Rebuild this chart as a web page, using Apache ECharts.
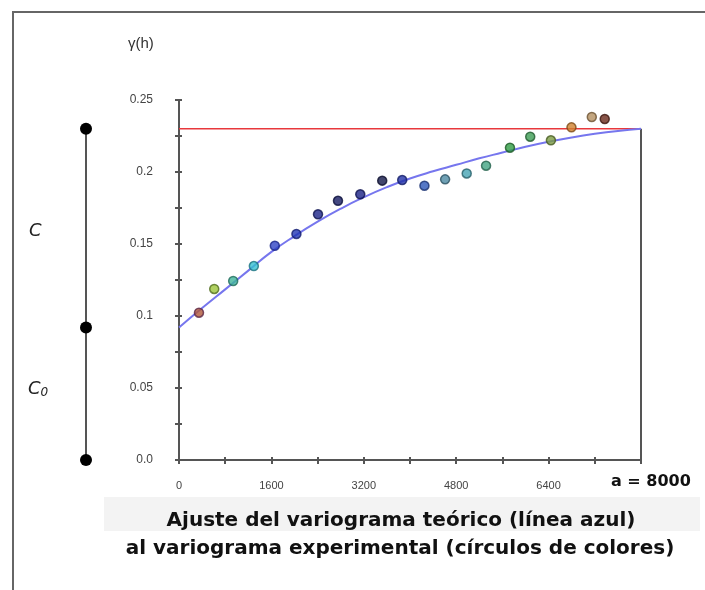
<!DOCTYPE html>
<html>
<head>
<meta charset="utf-8">
<script src="https://cdn.jsdelivr.net/npm/echarts@6/dist/echarts.min.js"></script>
<style>
  html, body { margin: 0; padding: 0; background: #fff; }
  #chart { width: 705px; height: 590px; }
</style>
</head>
<body>
<div id="chart"></div>
<script>
// variograma experimental (distancia h, gamma)
const lagH = [346, 610, 938, 1296, 1659, 2033, 2407, 2753, 3139, 3519, 3865, 4250, 4608, 4982, 5317, 5731, 6082, 6440, 6796, 7148, 7372]
const gammaExp = [0.1023, 0.1188, 0.1243, 0.1347, 0.1488, 0.157, 0.1706, 0.180, 0.1845, 0.194, 0.1944, 0.1905, 0.1949, 0.199, 0.2044, 0.2169, 0.2245, 0.222, 0.231, 0.2382, 0.2368]

// variograma teórico (línea azul)
const modelH = [0, 400, 800, 1200, 1600, 2000, 2400, 2800, 3200, 3600, 4000, 4400, 4800, 5200, 5600, 6000, 6400, 6800, 7200, 7600, 8000]
const modelGamma = [0.092, 0.1055, 0.1185, 0.1315, 0.1445, 0.1555, 0.1655, 0.1745, 0.1825, 0.1895, 0.1955, 0.2005, 0.205, 0.2095, 0.2135, 0.2175, 0.221, 0.224, 0.2265, 0.2285, 0.23]

const nugget = 0.092   // C0
const sill = 0.23      // C0 + C
const rangeA = 8000    // a

const xLabels = [0, 1600, 3200, 4800, 6400]
const yLabels = [0, 0.05, 0.1, 0.15, 0.2, 0.25]

// colores de los círculos
const pointFill = ['#b0583a', '#9cc43a', '#3fb49a', '#34bfd0', '#2f44c4', '#2236b4', '#1c2488', '#151a62', '#1a2286', '#131848', '#2232a6', '#2c56b8', '#4c8aa2', '#46a4b4', '#42a482', '#2f9c44', '#3c9c54', '#7c9c42', '#d0822e', '#b49060', '#6a2a1c']
const pointBorder = ['#5a2444', '#4e6a1a', '#1e6a5a', '#1a7280', '#182488', '#141e70', '#0e1450', '#0a0e3a', '#0e1250', '#0a0c2a', '#121c66', '#183070', '#2a5060', '#245e68', '#22604a', '#1a5a24', '#205a2e', '#465a22', '#7a4814', '#6a5030', '#3a140c']

const chart = echarts.init(document.getElementById('chart'))

const expData = lagH.map((h, i) => ({
  value: [h, gammaExp[i]],
  itemStyle: { color: pointFill[i], borderColor: pointBorder[i], borderWidth: 1.5 }
}))

const fmtY = v => {
  const hit = yLabels.find(l => Math.abs(l - v) < 1e-9)
  if (hit === undefined) return ''
  return hit === 0 ? '0.0' : String(hit)
}

const option = {
  backgroundColor: '#fff',
  animation: false,
  grid: [
    { left: 179, right: 64, top: 100, bottom: 130 },
    { left: 76, width: 20, top: 100, bottom: 130 }
  ],
  xAxis: [
    {
      type: 'value', min: 0, max: rangeA, interval: 800,
      axisLine: { lineStyle: { color: '#555', width: 2 } },
      axisTick: { length: 4, lineStyle: { color: '#555', width: 2 } },
      splitLine: { show: false },
      axisLabel: {
        color: '#444', fontSize: 11, fontFamily: 'Liberation Sans', margin: 20,
        formatter: v => (xLabels.includes(v) ? String(v) : '')
      }
    },
    {
      type: 'value', min: 0, max: rangeA, interval: 800, position: 'bottom',
      axisLine: { show: false },
      axisTick: { inside: true, length: 3, lineStyle: { color: '#555', width: 2 } },
      axisLabel: { show: false }, splitLine: { show: false }
    },
    { type: 'value', gridIndex: 1, min: -1, max: 1, show: false }
  ],
  yAxis: [
    {
      type: 'value', min: 0, max: 0.25, interval: 0.025,
      axisLine: { show: true, lineStyle: { color: '#555', width: 2 } },
      axisTick: { show: true, length: 4, lineStyle: { color: '#555', width: 2 } },
      splitLine: { show: false },
      axisLabel: { color: '#444', fontSize: 12, fontFamily: 'Liberation Sans', margin: 26, formatter: fmtY }
    },
    {
      type: 'value', min: 0, max: 0.25, interval: 0.025, position: 'left',
      axisLine: { show: false },
      axisTick: { show: true, inside: true, length: 3, lineStyle: { color: '#555', width: 2 } },
      axisLabel: { show: false }, splitLine: { show: false }
    },
    { type: 'value', gridIndex: 1, min: 0, max: 0.25, show: false }
  ],
  series: [
    {
      name: 'meseta',
      type: 'line',
      data: [[0, sill], [rangeA, sill]],
      showSymbol: false,
      lineStyle: { color: '#e8383c', width: 1.5 },
      z: 2
    },
    {
      name: 'alcance',
      type: 'line',
      data: [[rangeA, 0], [rangeA, sill]],
      showSymbol: false,
      lineStyle: { color: '#555', width: 2 },
      z: 2
    },
    {
      name: 'teórico',
      type: 'line',
      data: modelH.map((h, i) => [h, modelGamma[i]]),
      smooth: true,
      showSymbol: false,
      lineStyle: { color: '#7676ee', width: 2 },
      z: 3
    },
    {
      name: 'experimental',
      type: 'scatter',
      data: expData,
      symbolSize: 9,
      z: 4
    },
    {
      name: 'C / C0',
      type: 'line',
      xAxisIndex: 2,
      yAxisIndex: 2,
      data: [[0, 0], [0, nugget], [0, sill]],
      symbol: 'circle',
      symbolSize: 12,
      itemStyle: { color: '#000' },
      lineStyle: { color: '#555', width: 2 }
    }
  ],
  graphic: [
    { type: 'rect', shape: { x: 13, y: 12, width: 800, height: 700 }, style: { fill: 'none', stroke: '#666', lineWidth: 2 }, silent: true },
    { type: 'rect', shape: { x: 104, y: 497, width: 596, height: 34 }, style: { fill: '#f3f3f3' }, silent: true, z: -1 },
    { type: 'text', left: 128, top: 36, style: { text: 'γ(h)', fontSize: 15, fill: '#333', fontFamily: 'Liberation Sans' } },
    { type: 'text', left: 29, top: 222, style: { text: 'C', fontSize: 18, fontStyle: 'italic', fill: '#222', fontFamily: 'DejaVu Sans' } },
    {
      type: 'text', left: 28, top: 380,
      style: {
        text: '{c|C}{s|0}',
        rich: {
          c: { fontSize: 18, fontStyle: 'italic', fill: '#222', fontFamily: 'DejaVu Sans' },
          s: { fontSize: 12, fontStyle: 'italic', fill: '#222', fontFamily: 'DejaVu Sans', padding: [8, 0, 0, 0] }
        }
      }
    },
    { type: 'text', left: 611, top: 474, style: { text: 'a = 8000', fontSize: 16, fontWeight: 'bold', fill: '#111', fontFamily: 'DejaVu Sans' } },
    {
      type: 'text', x: 401, y: 511,
      style: { text: 'Ajuste del variograma teórico (línea azul)', align: 'center', fontSize: 20, fontWeight: 'bold', fill: '#111', fontFamily: 'DejaVu Sans' }
    },
    {
      type: 'text', x: 400, y: 539,
      style: { text: 'al variograma experimental (círculos de colores)', align: 'center', fontSize: 20, fontWeight: 'bold', fill: '#111', fontFamily: 'DejaVu Sans' }
    }
  ]
}

chart.setOption(option)
</script>
</body>
</html>
